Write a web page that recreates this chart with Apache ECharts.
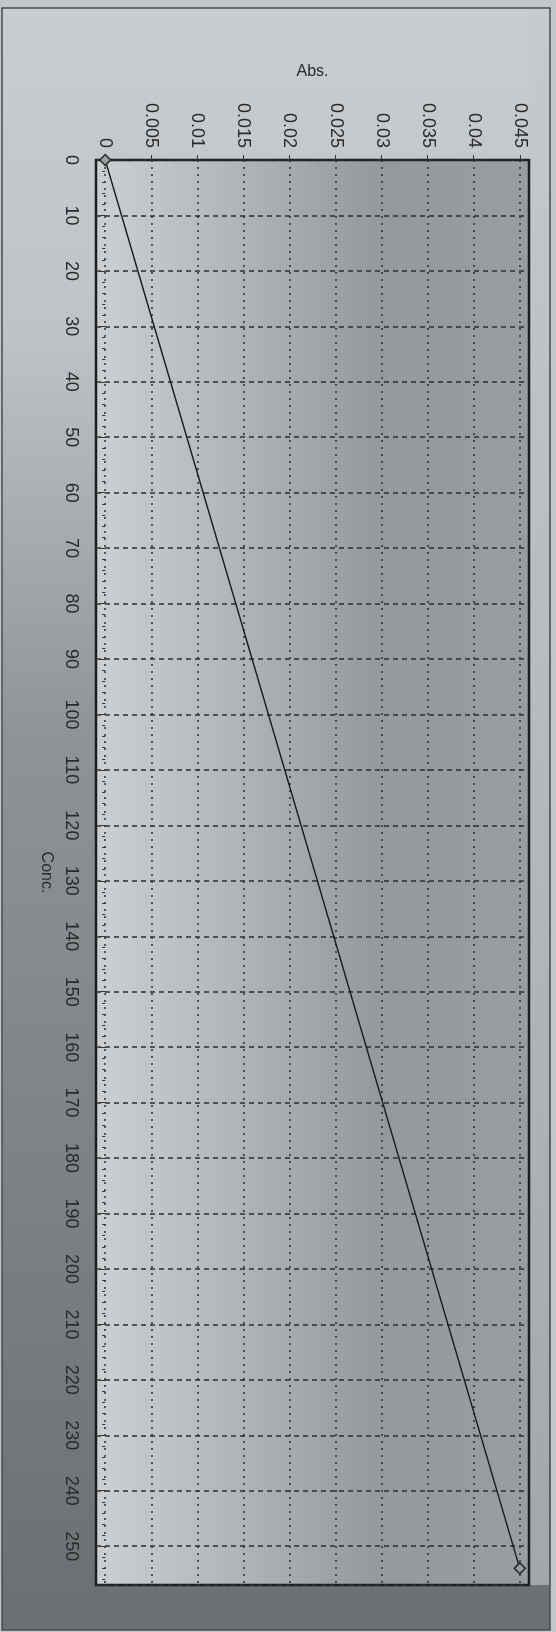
<!DOCTYPE html>
<html>
<head>
<meta charset="utf-8">
<script src="https://cdn.jsdelivr.net/npm/echarts@6/dist/echarts.min.js"></script>
<style>
  html, body { margin: 0; padding: 0; background: #c3c7ca; }
  #calib { width: 556px; height: 1632px; }
</style>
</head>
<body>
<div id="calib"></div>
<script>
// calibration points (Conc. -> Abs.)
const concValues = [0, 254];
const absValues = [0, 0.045];
const absTicks = [0, 0.005, 0.01, 0.015, 0.02, 0.025, 0.03, 0.035, 0.04, 0.045];
const concTickStep = 10;

const chart = echarts.init(document.getElementById('calib'));

const points = concValues.map((c, i) => [absValues[i], c]);

const option = {
  backgroundColor: '#c3c7ca',
  textStyle: { fontFamily: 'Liberation Sans, Arial, sans-serif' },
  graphic: [
    {
      // photographed page / frame
      type: 'rect',
      z: -10,
      shape: { x: 2, y: 8, width: 548, height: 1622 },
      style: {
        fill: new echarts.graphic.LinearGradient(0, 0, 0, 1, [
          { offset: 0, color: '#c9cdd0' },
          { offset: 0.2, color: '#bfc3c6' },
          { offset: 0.45, color: '#8e9396' },
          { offset: 1, color: '#6a6f72' }
        ]),
        stroke: '#4a4d50',
        lineWidth: 1.5
      }
    },
    {
      // lighter right margin of the photo
      type: 'rect',
      z: -9,
      shape: { x: 529, y: 9, width: 20, height: 1576 },
      style: {
        fill: new echarts.graphic.LinearGradient(0, 0, 0, 1, [
          { offset: 0, color: '#c6cacc' },
          { offset: 1, color: '#a3a7aa' }
        ])
      }
    }
  ],
  grid: {
    left: 96,
    top: 160,
    width: 433,
    height: 1425,
    show: true,
    borderColor: '#1e1e1e',
    borderWidth: 2.5,
    backgroundColor: new echarts.graphic.LinearGradient(0, 0, 1, 0, [
      { offset: 0, color: '#cdd0d2' },
      { offset: 0.3, color: '#b3b7ba' },
      { offset: 0.65, color: '#94999c' },
      { offset: 1, color: '#999da0' }
    ])
  },
  xAxis: {
    type: 'value',
    position: 'top',
    min: -0.001,
    max: 0.046,
    name: 'Abs.',
    nameLocation: 'middle',
    nameGap: 80,
    nameTextStyle: { color: '#2a2a2a', fontSize: 16 },
    axisLine: { show: false },
    axisTick: { show: true, length: 5, lineStyle: { color: '#333' }, customValues: absTicks },
    axisLabel: {
      rotate: -90,
      margin: 12,
      fontSize: 18,
      color: '#2a2a2a',
      customValues: absTicks
    },
    splitLine: { show: true, lineStyle: { color: '#2e2e2e', type: [2, 5], width: 1.5 } }
  },
  yAxis: {
    type: 'value',
    inverse: true,
    min: 0,
    max: 257,
    interval: concTickStep,
    name: 'Conc.',
    nameLocation: 'middle',
    nameRotate: -90,
    nameGap: 40,
    nameTextStyle: { color: '#2a2a2a', fontSize: 16 },
    axisLine: { show: false },
    axisTick: { show: true, length: 5, lineStyle: { color: '#333' } },
    minorTick: { show: true, splitNumber: 5, length: 3, lineStyle: { color: '#333' } },
    axisLabel: {
      rotate: -90,
      margin: 16,
      fontSize: 18,
      color: '#2a2a2a',
      showMaxLabel: false
    },
    splitLine: { show: true, lineStyle: { color: '#2e2e2e', type: [5, 4], width: 1.5 } }
  },
  series: [
    {
      type: 'line',
      data: points,
      symbol: 'diamond',
      symbolSize: 11,
      lineStyle: { color: '#1a1a1a', width: 1.4 },
      itemStyle: { color: '#9a9ea1', borderColor: '#2a2a2a', borderWidth: 1.5 },
      animation: false
    }
  ]
};

chart.setOption(option);
</script>
</body>
</html>
